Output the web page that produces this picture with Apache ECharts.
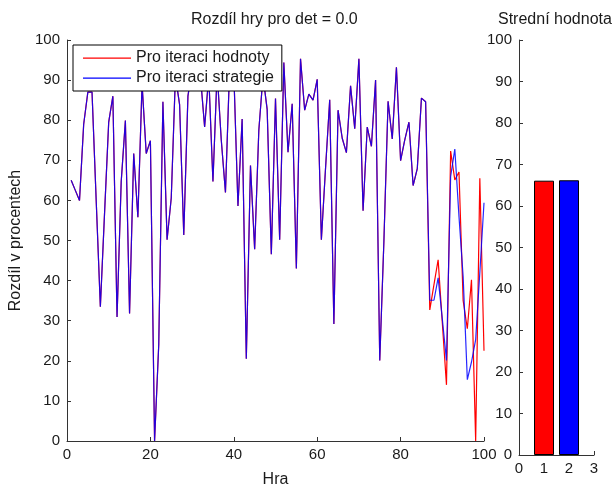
<!DOCTYPE html>
<html>
<head>
<meta charset="utf-8">
<script src="https://cdn.jsdelivr.net/npm/echarts@6/dist/echarts.min.js"></script>
<style>
html,body{margin:0;padding:0;background:#fff;}
#chart{width:615px;height:493px;}
</style>
</head>
<body>
<div id="chart"></div>
<script>
// x positions (games)
var games = [];
for (var i = 1; i <= 100; i++) games.push(i);

// Strategy iteration (blue)
var strategyValues = [
  65, 62.5, 60, 79, 87, 87, 60, 33.5, 56.7, 79.5,
  86, 30.9, 64.7, 79.9, 31.8, 71.7, 55.8, 89, 71.7, 74.9,
  0, 24, 84.6, 50.2, 60.6, 91, 83.9, 51.4, 86, 93,
  96, 91, 78.3, 91, 64.7, 92, 75, 62, 93, 92,
  58.6, 80.3, 20.5, 68.7, 47.8, 77.5, 91, 82.7, 46.6, 85.4,
  50.2, 94.4, 72, 84.1, 43, 95.3, 82.5, 86.5, 85, 90.2,
  50.2, 68, 85.1, 29.2, 82.5, 75.5, 71.9, 88.6, 77.9, 95.3,
  57.4, 78.3, 73.5, 90, 20.1, 50, 84.7, 75.3, 93.2, 69.9,
  75.1, 79.5, 63.7, 67.9, 85.5, 84.6, 35.1, 35.1, 40.7, 30.5,
  20.1, 66, 72.8, 56, 41, 15.3, 19.7, 25.3, 42, 59.4
];

// Value iteration (red) - same as strategy except the tail
var valueValues = strategyValues.slice(0, 86).concat([
  32.7, 39, 45.2, 29.5, 14, 72.3, 65.1, 67.1, 35, 28,
  40.2, 0, 65.5, 22.5
]);

// Mean values (bar chart)
var meanCategories = [1, 2];
var meanValues = [66.1, 66.2];
var meanColors = ['#ff0000', '#0000ff'];

var seriesNames = ['Pro iteraci hodnoty', 'Pro iteraci strategie'];

function pairs(xs, ys) {
  return xs.map(function (x, i) { return [x, ys[i]]; });
}

var axisColor = '#333';
var txtColor = '#1a1a1a';
var font = 'Liberation Sans, Arial, Helvetica, sans-serif';
var lineIcon = 'path://M0,0 M0,7.4 L48,7.4 L48,8.7 L0,8.7 Z M48,16';

function valAxis(extra) {
  var base = {
    type: 'value',
    axisLine: { show: true, lineStyle: { color: axisColor, width: 1 } },
    axisTick: { show: true, inside: true, length: 4, lineStyle: { color: axisColor } },
    axisLabel: { color: txtColor, fontSize: 15, fontFamily: font },
    splitLine: { show: false }
  };
  for (var k in extra) base[k] = extra[k];
  return base;
}

var chart = echarts.init(document.getElementById('chart'), null, { renderer: 'canvas' });
chart.setOption({
  animation: false,
  backgroundColor: '#fff',
  textStyle: { fontFamily: font },
  title: [
    { text: 'Rozdíl hry pro det = 0.0', left: 191, top: 12, padding: 0,
      textStyle: { fontSize: 16, fontWeight: 'normal', color: txtColor, fontFamily: font } },
    { text: 'Strední hodnota', left: 498, top: 12, padding: 0,
      textStyle: { fontSize: 16, fontWeight: 'normal', color: txtColor, fontFamily: font } }
  ],
  legend: {
    data: seriesNames.map(function (n) { return { name: n, icon: lineIcon }; }),
    orient: 'vertical',
    left: 73, top: 45,
    padding: [5, 8, 5, 10],
    itemGap: 4,
    itemWidth: 48, itemHeight: 16,
    backgroundColor: '#fff',
    borderColor: '#000', borderWidth: 1,
    textStyle: { fontSize: 16, color: txtColor, fontFamily: font },
    z: 10
  },
  grid: [
    { left: 65, top: 40, width: 419, height: 415 },
    { left: 519, top: 40, width: 75, height: 415 }
  ],
  xAxis: [
    valAxis({ gridIndex: 0, min: 0, max: 100, interval: 20,
      name: 'Hra', nameLocation: 'middle', nameGap: 31,
      nameTextStyle: { fontSize: 16, color: txtColor, fontFamily: font },
      axisLabel: { color: txtColor, fontSize: 15, fontFamily: font, margin: 6 } }),
    valAxis({ gridIndex: 1, min: 0, max: 3, interval: 1,
      axisLabel: { color: txtColor, fontSize: 15, fontFamily: font, margin: 6 } })
  ],
  yAxis: [
    valAxis({ gridIndex: 0, min: 0, max: 100, interval: 10,
      name: 'Rozdíl v procentech', nameLocation: 'middle', nameGap: 43,
      nameTextStyle: { fontSize: 16, color: txtColor, fontFamily: font },
      axisLabel: { color: txtColor, fontSize: 15, fontFamily: font, margin: 7 } }),
    valAxis({ gridIndex: 1, min: 0, max: 100, interval: 10,
      axisLabel: { color: txtColor, fontSize: 15, fontFamily: font, margin: 7 } })
  ],
  series: [
    {
      name: seriesNames[0], type: 'line', xAxisIndex: 0, yAxisIndex: 0,
      data: pairs(games, valueValues), symbol: 'none',
      lineStyle: { color: '#ff0000', width: 1.2 }, itemStyle: { color: '#ff0000' }, z: 2
    },
    {
      name: seriesNames[1], type: 'line', xAxisIndex: 0, yAxisIndex: 0,
      data: pairs(games, strategyValues), symbol: 'none',
      lineStyle: { color: '#0000ff', width: 1.2, opacity: 0.85 }, itemStyle: { color: '#0000ff' }, z: 3
    },
    {
      name: 'mean', type: 'bar', xAxisIndex: 1, yAxisIndex: 1, barWidth: 20,
      data: meanCategories.map(function (c, i) {
        return { value: [c, meanValues[i]], itemStyle: { color: meanColors[i], borderColor: '#000', borderWidth: 1 } };
      })
    }
  ]
});
</script>
</body>
</html>
